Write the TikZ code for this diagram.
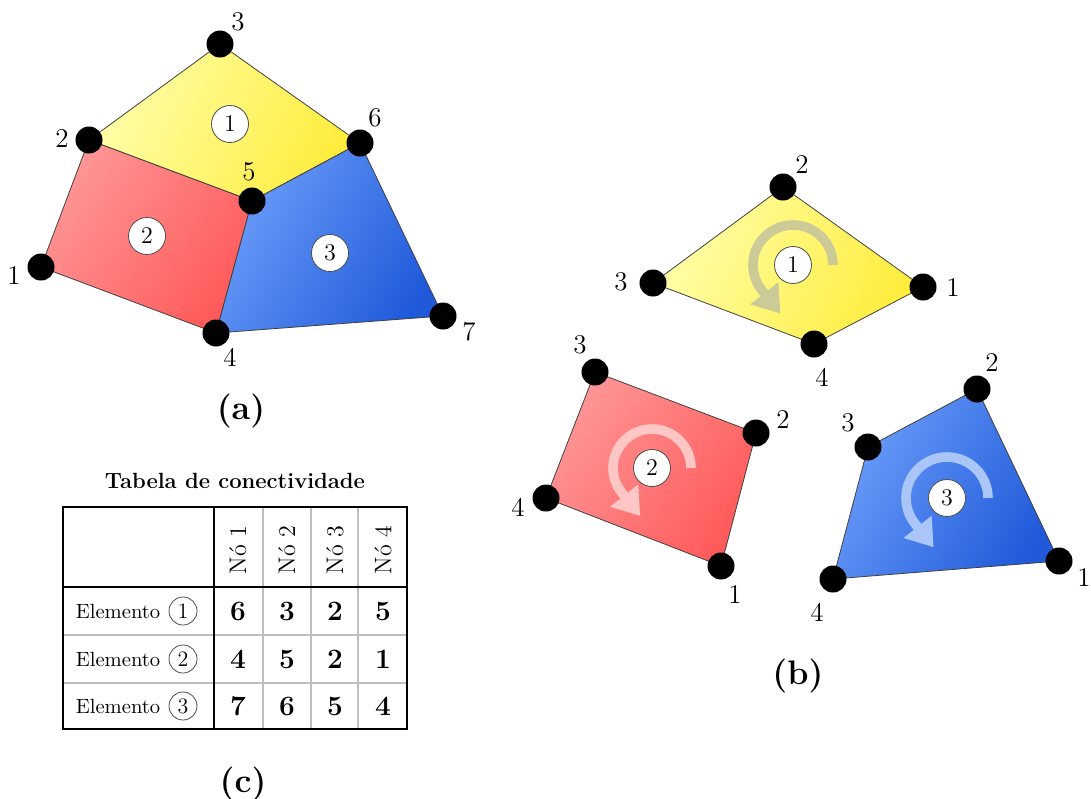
\documentclass[tikz,border=0pt]{standalone}
\usepackage{tikz}
\usetikzlibrary{arrows.meta,positioning,backgrounds}

\definecolor{yelLight}{RGB}{255,255,170}
\definecolor{yelDark}{RGB}{255,236,60}
\definecolor{redLight}{RGB}{255,150,150}
\definecolor{redDark}{RGB}{255,90,90}
\definecolor{bluLight}{RGB}{108,158,250}
\definecolor{bluDark}{RGB}{32,90,218}
\definecolor{arrYel}{RGB}{204,202,150}
\definecolor{arrRed}{RGB}{255,198,198}
\definecolor{arrBlu}{RGB}{170,198,248}

\begin{document}
\begin{tikzpicture}[
  x=0.5pt, y=-0.5pt,
  pdot/.style={circle,fill=black,minimum size=13.5pt,inner sep=0pt},
  lbl/.style={font=\fontsize{13.5}{15}\selectfont,inner sep=0pt},
  elem/.style={circle,draw=black!70,fill=white,minimum size=18.5pt,inner sep=0pt,font=\fontsize{12}{14}\selectfont},
  face/.style={draw=black!75,line width=0.4pt},
  yface/.style={face,top color=yelLight,bottom color=yelDark,shading angle=65},
  rface/.style={face,top color=redLight,bottom color=redDark,shading angle=55},
  bface/.style={face,top color=bluLight,bottom color=bluDark,shading angle=60},
  rot/.style={line width=4.8pt,-{Triangle[width=17pt,length=13pt]}},
  capt/.style={font=\fontsize{17}{19}\selectfont\bfseries},
  ttxt/.style={font=\fontsize{10.3}{12}\selectfont,inner sep=0pt},
  tnum/.style={font=\fontsize{14}{16}\selectfont\bfseries},
  tcirc/.style={circle,draw=black!70,minimum size=14pt,inner sep=0pt,font=\fontsize{11}{13}\selectfont}
]
\useasboundingbox (0,0) rectangle (1091,798);

% (a) assembled mesh
\foreach \n/\x/\y/\lx/\ly in {1/41/267/14/276, 2/89/140/62/139, 3/220/44/238/22,
    4/216/333/230/357, 5/252/201/249/172, 6/360/143/375/118, 7/443/316/469/332}{
  \node[pdot] (a\n) at (\x,\y) {};
  \node[lbl] (la\n) at (\lx,\ly) {\n};
}
\node[elem] (ea1) at (230,124) {1};
\node[elem] (ea2) at (147,236) {2};
\node[elem] (ea3) at (330,253) {3};

% (b) separate elements, local numbering
\foreach \e/\n/\x/\y/\lx/\ly in {1/1/923/287/953/288, 1/2/783/187/802/165,
    1/3/653/283/621/282, 1/4/814/344/822/377,
    2/1/721/566/735/595, 2/2/756/433/783/420, 2/3/595/372/580/345, 2/4/546/498/518/507,
    3/1/1059/561/1084/578, 3/2/977/389/992/363, 3/3/868/447/848/423, 3/4/833/579/817/612}{
  \node[pdot] (b\e-\n) at (\x,\y) {};
  \node[lbl] (lb\e-\n) at (\lx,\ly) {\n};
}
\node[elem] (eb1) at (793,265) {1};
\node[elem] (eb2) at (652,468) {2};
\node[elem] (eb3) at (947,498) {3};

\begin{scope}[on background layer]
  \shade[yface] (a2.center) -- (a3.center) -- (a6.center) -- (a5.center) -- cycle;
  \shade[rface] (a1.center) -- (a2.center) -- (a5.center) -- (a4.center) -- cycle;
  \shade[bface] (a4.center) -- (a5.center) -- (a6.center) -- (a7.center) -- cycle;
  \shade[yface] (b1-3.center) -- (b1-2.center) -- (b1-1.center) -- (b1-4.center) -- cycle;
  \shade[rface] (b2-3.center) -- (b2-2.center) -- (b2-1.center) -- (b2-4.center) -- cycle;
  \shade[bface] (b3-3.center) -- (b3-2.center) -- (b3-1.center) -- (b3-4.center) -- cycle;
  % node ordering sense
  \draw[rot,arrYel] (eb1.center) ++(40,0) arc[start angle=0,end angle=-218,radius=40] -- ++(19,24);
  \draw[rot,arrRed] (eb2.center) ++(39,0) arc[start angle=0,end angle=-218,radius=39] -- ++(19,24);
  \draw[rot,arrBlu] (eb3.center) ++(41,0) arc[start angle=0,end angle=-218,radius=41] -- ++(19,24);
\end{scope}

\node[capt] (capa) at (241,411) {(a)};
\node[capt] (capb) at (798,676) {(b)};

% (c) connectivity table
\node[font=\fontsize{11}{13}\selectfont\bfseries] (ttl) at (235,481) {Tabela de conectividade};
\foreach \x in {263,311,358} \draw[black!25,line width=0.6pt] (\x,507) -- (\x,729);
\foreach \y in {635,683} \draw[black!25,line width=0.6pt] (63,\y) -- (407,\y);
\draw[line width=0.9pt] (63,507) rectangle (407,729);
\draw[line width=0.9pt] (214,507) -- (214,729);
\draw[line width=0.9pt] (63,587) -- (407,587);
\foreach \k/\x in {1/238,2/287,3/335,4/383}
  \node[ttxt,rotate=90,font=\fontsize{12}{14}\selectfont] (h\k) at (\x,550) {Nó \k};
\foreach \r/\y/\va/\vb/\vc/\vd in {1/611/6/3/2/5, 2/659/4/5/2/1, 3/706/7/6/5/4}{
  \node[tcirc] (r\r c) at (183,\y) {\r};
  \node[ttxt,left=4pt of r\r c] (r\r t) {Elemento};
  \node[tnum] (r\r n1) at (238,\y) {\va};
  \node[tnum] (r\r n2) at (287,\y) {\vb};
  \node[tnum] (r\r n3) at (335,\y) {\vc};
  \node[tnum] (r\r n4) at (383,\y) {\vd};
}
\node[capt] (capc) at (243,784) {(c)};
\end{tikzpicture}
\end{document}
